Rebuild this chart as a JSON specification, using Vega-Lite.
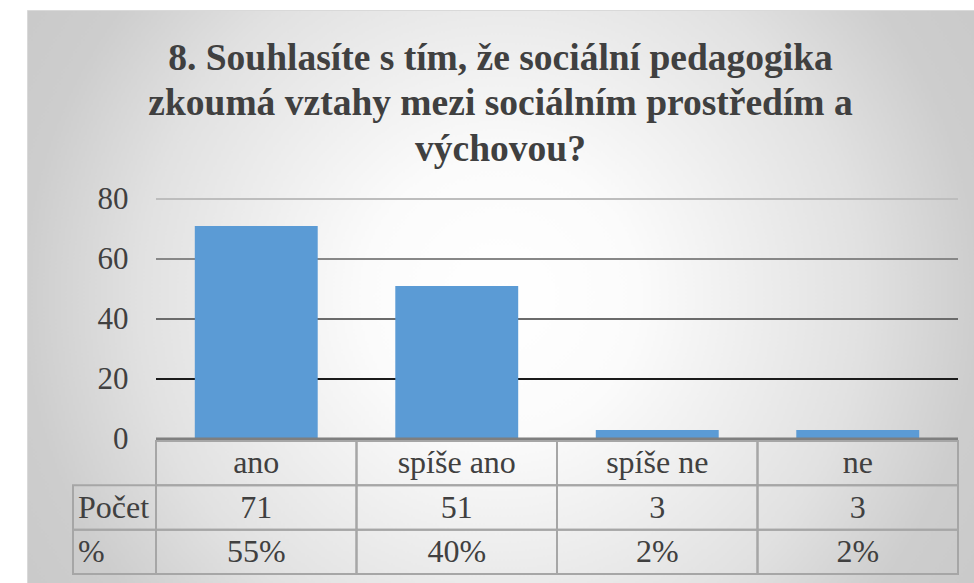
{
  "$schema": "https://vega.github.io/schema/vega-lite/v6.json",
  "width": 947,
  "height": 573,
  "autosize": {"type": "none"},
  "padding": {"left": 27, "top": 10, "right": 0, "bottom": 0},
  "background": "#ffffff",
  "config": {"font": "Liberation Serif"},
  "view": {
    "fill": {
      "gradient": "radial",
      "x1": 0.5, "y1": 0.5, "r1": 0,
      "x2": 0.5, "y2": 0.5, "r2": 0.72,
      "stops": [
        {"offset": 0, "color": "#ffffff"},
        {"offset": 0.2, "color": "#fbfbfb"},
        {"offset": 0.53, "color": "#e1e1e1"},
        {"offset": 0.7, "color": "#cdcdcd"},
        {"offset": 1, "color": "#c4c4c4"}
      ]
    },
    "stroke": "#d9d9d9",
    "strokeWidth": 1
  },
  "title": {
    "text": ["8. Souhlasíte s tím, že sociální pedagogika", "zkoumá vztahy mezi sociálním prostředím a", "výchovou?"],
    "anchor": "middle",
    "frame": "group",
    "orient": "top",
    "baseline": "alphabetic",
    "offset": -188,
    "lineHeight": 45.5,
    "fontSize": 37.5,
    "fontWeight": "bold",
    "font": "Liberation Serif",
    "color": "#404040"
  },
  "data": {
    "values": [
      {"cat": "ano", "count": 71, "pct": "55%"},
      {"cat": "spíše ano", "count": 51, "pct": "40%"},
      {"cat": "spíše ne", "count": 3, "pct": "2%"},
      {"cat": "ne", "count": 3, "pct": "2%"}
    ]
  },
  "resolve": {"scale": {"x": "independent", "y": "independent"}},
  "layer": [
    {
      "resolve": {"scale": {"x": "independent"}},
      "layer": [
        {
          "data": {"values": [{"v": 20}, {"v": 40}, {"v": 60}, {"v": 80}]},
          "mark": {"type": "rule", "strokeWidth": 2},
          "encoding": {
            "x": {"datum": 0, "type": "quantitative", "scale": {"domain": [0, 1], "range": [129, 931]}, "axis": null},
            "x2": {"datum": 1},
            "y": {
              "field": "v", "type": "quantitative",
              "scale": {"domain": [0, 80], "range": [429, 189], "nice": false, "zero": true},
              "axis": {
                "values": [0, 20, 40, 60, 80],
                "domain": false, "ticks": false, "grid": false, "title": null,
                "labelFont": "Liberation Serif", "labelFontSize": 31, "labelColor": "#404040",
                "labelPadding": 0, "offset": -101
              }
            },
            "color": {
              "field": "v", "type": "ordinal",
              "scale": {"domain": [20, 40, 60, 80], "range": ["#1a1a1a", "#6b6b6b", "#878787", "#bdbdbd"]},
              "legend": null
            }
          }
        },
        {
          "mark": {"type": "bar", "color": "#5b9bd5", "width": {"band": 0.613}},
          "encoding": {
            "x": {
              "field": "cat", "type": "nominal",
              "scale": {"domain": ["ano", "spíše ano", "spíše ne", "ne"], "range": [129, 931], "paddingInner": 0, "paddingOuter": 0},
              "axis": null
            },
            "y": {"field": "count", "type": "quantitative"}
          }
        },
        {
          "data": {"values": [{"v": 0}]},
          "mark": {"type": "rule", "strokeWidth": 3, "color": "#7f7f7f"},
          "encoding": {
            "x": {"datum": 0, "type": "quantitative", "scale": {"domain": [0, 1], "range": [129, 931]}, "axis": null},
            "x2": {"datum": 1},
            "y": {"field": "v", "type": "quantitative"}
          }
        }
      ]
    },
    {
      "layer": [
        {
          "mark": {"type": "rect", "filled": false, "color": "#a6a6a6", "strokeWidth": 2},
          "encoding": {
            "x": {
              "field": "cat", "type": "nominal",
              "scale": {"domain": ["ano", "spíše ano", "spíše ne", "ne"], "range": [129, 931], "paddingInner": 0, "paddingOuter": 0},
              "axis": null
            },
            "y": {
              "datum": "hdr", "type": "nominal",
              "scale": {"domain": ["hdr", "count", "pct"], "range": [431, 564], "paddingInner": 0, "paddingOuter": 0},
              "axis": null
            }
          }
        },
        {
          "transform": [{"fold": ["count", "pct"], "as": ["key", "value"]}],
          "mark": {"type": "rect", "filled": false, "color": "#a6a6a6", "strokeWidth": 2},
          "encoding": {
            "x": {"field": "cat", "type": "nominal"},
            "y": {"field": "key", "type": "nominal"}
          }
        },
        {
          "mark": {"type": "text", "fontSize": 32, "font": "Liberation Serif", "color": "#404040", "baseline": "middle"},
          "encoding": {
            "x": {"field": "cat", "type": "nominal"},
            "y": {"datum": "hdr", "type": "nominal"},
            "text": {"field": "cat", "type": "nominal"}
          }
        },
        {
          "transform": [{"fold": ["count", "pct"], "as": ["key", "value"]}],
          "mark": {"type": "text", "fontSize": 32, "font": "Liberation Serif", "color": "#404040", "baseline": "middle"},
          "encoding": {
            "x": {"field": "cat", "type": "nominal"},
            "y": {"field": "key", "type": "nominal"},
            "text": {"field": "value", "type": "nominal"}
          }
        }
      ]
    },
    {
      "data": {"values": [{"lab": "Počet", "key": "count"}, {"lab": "%", "key": "pct"}]},
      "layer": [
        {
          "mark": {"type": "rect", "filled": false, "color": "#a6a6a6", "strokeWidth": 2},
          "encoding": {
            "x": {
              "datum": "lbl", "type": "nominal",
              "scale": {"domain": ["lbl"], "range": [46, 129], "paddingInner": 0, "paddingOuter": 0},
              "axis": null
            },
            "y": {
              "field": "key", "type": "nominal",
              "scale": {"domain": ["hdr", "count", "pct"], "range": [431, 564], "paddingInner": 0, "paddingOuter": 0},
              "axis": null
            }
          }
        },
        {
          "mark": {"type": "text", "fontSize": 32, "font": "Liberation Serif", "color": "#404040", "baseline": "middle", "align": "left", "dx": 5},
          "encoding": {
            "x": {"datum": "lbl", "type": "nominal", "bandPosition": 0},
            "y": {"field": "key", "type": "nominal"},
            "text": {"field": "lab", "type": "nominal"}
          }
        }
      ]
    }
  ]
}
